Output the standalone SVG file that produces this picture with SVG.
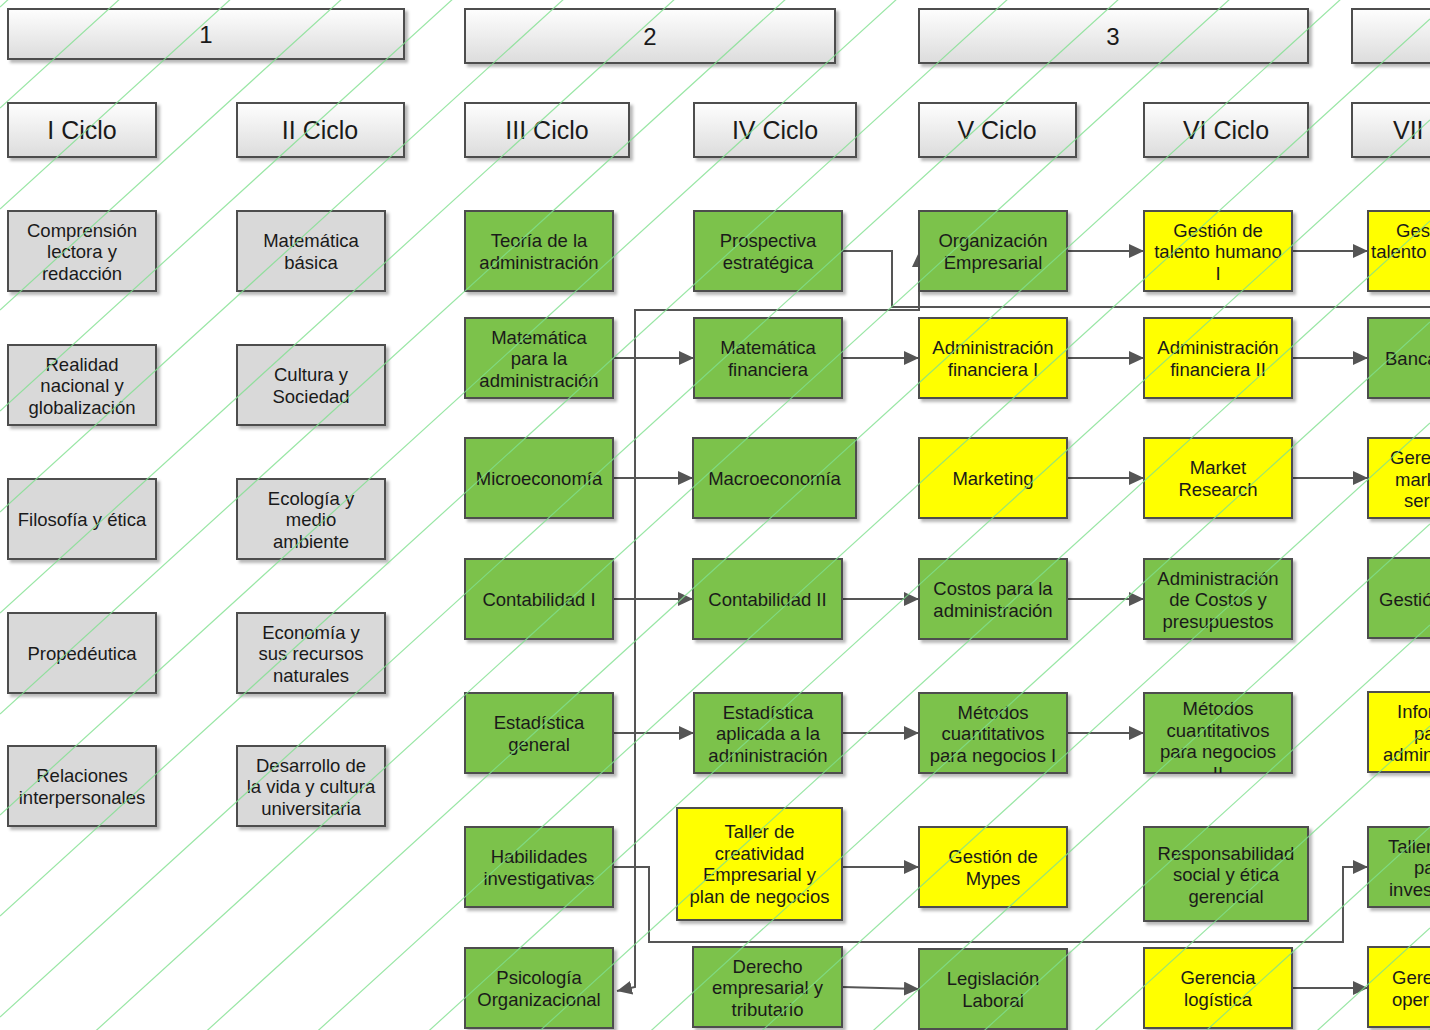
<svg xmlns="http://www.w3.org/2000/svg" width="1430" height="1030" viewBox="0 0 1430 1030">
<defs>
<style>
.n{stroke:#4d4d4d;stroke-width:2;filter:url(#sh)}
.gr{fill:#d9d9d9}
.g{fill:#7cc24b}
.y{fill:#ffff00}
.h{fill:url(#hg);stroke:#4d4d4d;stroke-width:2;filter:url(#sh)}
.t{font-family:"Liberation Sans",Arial,sans-serif;font-size:18.5px;fill:#1a1a1a;text-anchor:middle;dominant-baseline:central}
.ts{font-family:"Liberation Sans",Arial,sans-serif;font-size:18.5px;fill:#1a1a1a;dominant-baseline:central}
.ht{font-family:"Liberation Sans",Arial,sans-serif;font-size:25px;fill:#1a1a1a;text-anchor:middle;dominant-baseline:central}
.c{fill:none;stroke:#555;stroke-width:2}
.a{marker-end:url(#ar)}
.bg{fill:none;stroke:#7fe08f;stroke-width:1.2;opacity:0.8}
</style>
<linearGradient id="hg" x1="0" y1="0" x2="0" y2="1">
<stop offset="0" stop-color="#fefefe"/>
<stop offset="1" stop-color="#dcdcdc"/>
</linearGradient>
<filter id="sh" x="-10%" y="-10%" width="130%" height="140%">
<feDropShadow dx="3" dy="3" stdDeviation="1.5" flood-color="#000" flood-opacity="0.28"/>
</filter>
<marker id="ar" markerUnits="userSpaceOnUse" markerWidth="15" markerHeight="14" viewBox="0 0 15 14" refX="15" refY="7" orient="auto-start-reverse">
<path d="M0,0 L15,7 L0,14 z" fill="#555"/>
</marker>
<clipPath id="clipM2"><rect x="1144" y="693" width="148" height="80"/></clipPath>
</defs>
<rect width="1430" height="1030" fill="#fff"/>

<g id="connectors">
<path class="c" d="M842,251 H892 V307 H1430"/>
<path class="c" d="M919,252 V310 H635 V987 L617,991" marker-start="url(#ar)" marker-end="url(#ar)"/>
<path class="c a" d="M1067,251 H1144"/>
<path class="c a" d="M1292,251 H1368"/>
<path class="c a" d="M613,358 H694"/>
<path class="c a" d="M842,358 H919"/>
<path class="c a" d="M1067,358 H1144"/>
<path class="c a" d="M1292,358 H1368"/>
<path class="c a" d="M613,478 H693"/>
<path class="c a" d="M1067,478 H1144"/>
<path class="c a" d="M1292,478 H1368"/>
<path class="c a" d="M613,599 H693"/>
<path class="c a" d="M842,599 H919"/>
<path class="c a" d="M1067,599 H1144"/>
<path class="c a" d="M613,733 H694"/>
<path class="c a" d="M842,733 H919"/>
<path class="c a" d="M1067,733 H1144"/>
<path class="c a" d="M613,867 H649 V942 H1343 V867 H1368"/>
<path class="c a" d="M842,867 H919"/>
<path class="c a" d="M842,987 L919,989"/>
<path class="c a" d="M1292,988 H1368"/>
</g>

<g id="h1"><rect class="h" x="8" y="9" width="396" height="50"/><text class="ht" x="206" y="34" style="font-size:24px">1</text></g>
<g id="h2"><rect class="h" x="465" y="9" width="370" height="54"/><text class="ht" x="650" y="36" style="font-size:24px">2</text></g>
<g id="h3"><rect class="h" x="919" y="9" width="389" height="54"/><text class="ht" x="1113" y="36" style="font-size:24px">3</text></g>
<g id="h4"><rect class="h" x="1352" y="9" width="120" height="54"/></g>

<g id="ciclo1"><rect class="h" x="8" y="103" width="148" height="54"/><text class="ht" x="82" y="130">I Ciclo</text></g>
<g id="ciclo2"><rect class="h" x="237" y="103" width="167" height="54"/><text class="ht" x="320" y="130">II Ciclo</text></g>
<g id="ciclo3"><rect class="h" x="465" y="103" width="164" height="54"/><text class="ht" x="547" y="130">III Ciclo</text></g>
<g id="ciclo4"><rect class="h" x="694" y="103" width="162" height="54"/><text class="ht" x="775" y="130">IV Ciclo</text></g>
<g id="ciclo5"><rect class="h" x="919" y="103" width="157" height="54"/><text class="ht" x="997" y="130">V Ciclo</text></g>
<g id="ciclo6"><rect class="h" x="1144" y="103" width="164" height="54"/><text class="ht" x="1226" y="130">VI Ciclo</text></g>
<g id="ciclo7"><rect class="h" x="1352" y="103" width="120" height="54"/><text class="ht" x="1393" y="130" style="text-anchor:start">VII</text></g>

<!-- Column 1 -->
<g id="comprension"><rect class="n gr" x="8" y="211" width="148" height="80"/><text class="t" x="82"><tspan x="82" y="229.5">Comprensión</tspan><tspan x="82" y="251">lectora y</tspan><tspan x="82" y="272.5">redacción</tspan></text></g>
<g id="realidad"><rect class="n gr" x="8" y="345" width="148" height="80"/><text class="t"><tspan x="82" y="363.5">Realidad</tspan><tspan x="82" y="385">nacional y</tspan><tspan x="82" y="406.5">globalización</tspan></text></g>
<g id="filosofia"><rect class="n gr" x="8" y="479" width="148" height="80"/><text class="t" x="82" y="519">Filosofía y ética</text></g>
<g id="propedeutica"><rect class="n gr" x="8" y="613" width="148" height="80"/><text class="t" x="82" y="653">Propedéutica</text></g>
<g id="relaciones"><rect class="n gr" x="8" y="746" width="148" height="80"/><text class="t"><tspan x="82" y="775">Relaciones</tspan><tspan x="82" y="797">interpersonales</tspan></text></g>

<!-- Column 2 -->
<g id="matbasica"><rect class="n gr" x="237" y="211" width="148" height="80"/><text class="t"><tspan x="311" y="240">Matemática</tspan><tspan x="311" y="262">básica</tspan></text></g>
<g id="cultura"><rect class="n gr" x="237" y="345" width="148" height="80"/><text class="t"><tspan x="311" y="374">Cultura y</tspan><tspan x="311" y="396">Sociedad</tspan></text></g>
<g id="ecologia"><rect class="n gr" x="237" y="479" width="148" height="80"/><text class="t"><tspan x="311" y="497.5">Ecología y</tspan><tspan x="311" y="519">medio</tspan><tspan x="311" y="540.5">ambiente</tspan></text></g>
<g id="economia"><rect class="n gr" x="237" y="613" width="148" height="80"/><text class="t"><tspan x="311" y="631.5">Economía y</tspan><tspan x="311" y="653">sus recursos</tspan><tspan x="311" y="674.5">naturales</tspan></text></g>
<g id="desarrollo"><rect class="n gr" x="237" y="746" width="148" height="80"/><text class="t"><tspan x="311" y="764.5">Desarrollo de</tspan><tspan x="311" y="786">la vida y cultura</tspan><tspan x="311" y="807.5">universitaria</tspan></text></g>

<!-- Column 3 -->
<g id="teoria"><rect class="n g" x="465" y="211" width="148" height="80"/><text class="t"><tspan x="539" y="240">Teoría de la</tspan><tspan x="539" y="262">administración</tspan></text></g>
<g id="matadmin"><rect class="n g" x="465" y="318" width="148" height="80"/><text class="t"><tspan x="539" y="336.5">Matemática</tspan><tspan x="539" y="358">para la</tspan><tspan x="539" y="379.5">administración</tspan></text></g>
<g id="micro"><rect class="n g" x="465" y="438" width="148" height="80"/><text class="t" x="539" y="478">Microeconomía</text></g>
<g id="contab1"><rect class="n g" x="465" y="559" width="148" height="80"/><text class="t" x="539" y="599">Contabilidad I</text></g>
<g id="estgeneral"><rect class="n g" x="465" y="693" width="148" height="80"/><text class="t"><tspan x="539" y="722">Estadística</tspan><tspan x="539" y="744">general</tspan></text></g>
<g id="habilidades"><rect class="n g" x="465" y="827" width="148" height="80"/><text class="t"><tspan x="539" y="856">Habilidades</tspan><tspan x="539" y="878">investigativas</tspan></text></g>
<g id="psicologia"><rect class="n g" x="465" y="948" width="148" height="80"/><text class="t"><tspan x="539" y="977">Psicología</tspan><tspan x="539" y="999">Organizacional</tspan></text></g>

<!-- Column 4 -->
<g id="prospectiva"><rect class="n g" x="694" y="211" width="148" height="80"/><text class="t"><tspan x="768" y="240">Prospectiva</tspan><tspan x="768" y="262">estratégica</tspan></text></g>
<g id="matfin"><rect class="n g" x="694" y="318" width="148" height="80"/><text class="t"><tspan x="768" y="347">Matemática</tspan><tspan x="768" y="369">financiera</tspan></text></g>
<g id="macro"><rect class="n g" x="693" y="438" width="163" height="80"/><text class="t" x="774.5" y="478">Macroeconomía</text></g>
<g id="contab2"><rect class="n g" x="693" y="559" width="149" height="80"/><text class="t" x="767.5" y="599">Contabilidad II</text></g>
<g id="estaplicada"><rect class="n g" x="694" y="693" width="148" height="80"/><text class="t"><tspan x="768" y="711.5">Estadística</tspan><tspan x="768" y="733">aplicada a la</tspan><tspan x="768" y="754.5">administración</tspan></text></g>
<g id="tallercrea"><rect class="n y" x="677" y="808" width="165" height="112"/><text class="t"><tspan x="759.5" y="831">Taller de</tspan><tspan x="759.5" y="852.5">creatividad</tspan><tspan x="759.5" y="874">Empresarial y</tspan><tspan x="759.5" y="895.5">plan de negocios</tspan></text></g>
<g id="derecho"><rect class="n g" x="693" y="947" width="149" height="80"/><text class="t"><tspan x="767.5" y="965.5">Derecho</tspan><tspan x="767.5" y="987">empresarial y</tspan><tspan x="767.5" y="1008.5">tributario</tspan></text></g>

<!-- Column 5 -->
<g id="organizacion"><rect class="n g" x="919" y="211" width="148" height="80"/><text class="t"><tspan x="993" y="240">Organización</tspan><tspan x="993" y="262">Empresarial</tspan></text></g>
<g id="admfin1"><rect class="n y" x="919" y="318" width="148" height="80"/><text class="t"><tspan x="993" y="347">Administración</tspan><tspan x="993" y="369">financiera I</tspan></text></g>
<g id="marketing"><rect class="n y" x="919" y="438" width="148" height="80"/><text class="t" x="993" y="478">Marketing</text></g>
<g id="costos"><rect class="n g" x="919" y="559" width="148" height="80"/><text class="t"><tspan x="993" y="588">Costos para la</tspan><tspan x="993" y="610">administración</tspan></text></g>
<g id="metodos1"><rect class="n g" x="919" y="693" width="148" height="80"/><text class="t"><tspan x="993" y="711.5">Métodos</tspan><tspan x="993" y="733">cuantitativos</tspan><tspan x="993" y="754.5">para negocios I</tspan></text></g>
<g id="mypes"><rect class="n y" x="919" y="827" width="148" height="80"/><text class="t"><tspan x="993" y="856">Gestión de</tspan><tspan x="993" y="878">Mypes</tspan></text></g>
<g id="legislacion"><rect class="n g" x="919" y="949" width="148" height="80"/><text class="t"><tspan x="993" y="978">Legislación</tspan><tspan x="993" y="1000">Laboral</tspan></text></g>

<!-- Column 6 -->
<g id="talento1"><rect class="n y" x="1144" y="211" width="148" height="80"/><text class="t"><tspan x="1218" y="229.5">Gestión de</tspan><tspan x="1218" y="251">talento humano</tspan><tspan x="1218" y="272.5">I</tspan></text></g>
<g id="admfin2"><rect class="n y" x="1144" y="318" width="148" height="80"/><text class="t"><tspan x="1218" y="347">Administración</tspan><tspan x="1218" y="369">financiera II</tspan></text></g>
<g id="marketresearch"><rect class="n y" x="1144" y="438" width="148" height="80"/><text class="t"><tspan x="1218" y="467">Market</tspan><tspan x="1218" y="489">Research</tspan></text></g>
<g id="admcostos"><rect class="n g" x="1144" y="559" width="148" height="80"/><text class="t"><tspan x="1218" y="577.5">Administración</tspan><tspan x="1218" y="599">de Costos y</tspan><tspan x="1218" y="620.5">presupuestos</tspan></text></g>
<g id="metodos2"><rect class="n g" x="1144" y="693" width="148" height="80"/><text class="t" clip-path="url(#clipM2)"><tspan x="1218" y="708">Métodos</tspan><tspan x="1218" y="730">cuantitativos</tspan><tspan x="1218" y="751">para negocios</tspan><tspan x="1218" y="773">II</tspan></text></g>
<g id="responsabilidad"><rect class="n g" x="1144" y="827" width="164" height="94"/><text class="t"><tspan x="1226" y="852.5">Responsabilidad</tspan><tspan x="1226" y="874">social y ética</tspan><tspan x="1226" y="895.5">gerencial</tspan></text></g>
<g id="logistica"><rect class="n y" x="1144" y="948" width="148" height="80"/><text class="t"><tspan x="1218" y="977">Gerencia</tspan><tspan x="1218" y="999">logística</tspan></text></g>

<!-- Column 7 (cut at the right edge) -->
<g id="talento2"><rect class="n y" x="1368" y="211" width="148" height="80"/><text class="ts"><tspan x="1396" y="229.5">Ges</tspan><tspan x="1371" y="251">talento</tspan></text></g>
<g id="banca"><rect class="n g" x="1368" y="318" width="148" height="80"/><text class="ts" x="1385" y="358">Banca</text></g>
<g id="gerenciamark"><rect class="n y" x="1368" y="438" width="148" height="80"/><text class="ts"><tspan x="1390" y="457">Gere</tspan><tspan x="1395" y="478.5">mark</tspan><tspan x="1404" y="500">ser</tspan></text></g>
<g id="gestion7"><rect class="n g" x="1368" y="558" width="148" height="80"/><text class="ts" x="1379" y="599">Gestió</text></g>
<g id="informatica"><rect class="n y" x="1368" y="692" width="148" height="80"/><text class="ts"><tspan x="1397" y="711">Infor</tspan><tspan x="1414" y="732.5">pa</tspan><tspan x="1383" y="754">admin</tspan></text></g>
<g id="tallerinv"><rect class="n g" x="1368" y="827" width="148" height="80"/><text class="ts"><tspan x="1388" y="845.5">Taller</tspan><tspan x="1414" y="867">pa</tspan><tspan x="1389" y="888.5">inves</tspan></text></g>
<g id="gerenciaoper"><rect class="n y" x="1368" y="947" width="148" height="80"/><text class="ts"><tspan x="1392" y="977">Gere</tspan><tspan x="1392" y="999">oper</tspan></text></g>

<g id="background-lines">
<path class="bg" d="M0,7 L1430,-1294 M0,108 L1430,-1193 M0,209 L1430,-1092 M0,310 L1430,-991 M0,411 L1430,-890 M0,512 L1430,-789 M0,613 L1430,-688 M0,714 L1430,-587 M0,815 L1430,-486 M0,916 L1430,-385 M0,1017 L1430,-284 M0,1118 L1430,-183 M0,1219 L1430,-82 M0,1320 L1430,19 M0,1421 L1430,120 M0,1522 L1430,221 M0,1623 L1430,322 M0,1724 L1430,423 M0,1825 L1430,524 M0,1926 L1430,625 M0,2027 L1430,726 M0,2128 L1430,827 M0,2229 L1430,928 M0,2330 L1430,1029"/>
</g>
</svg>
